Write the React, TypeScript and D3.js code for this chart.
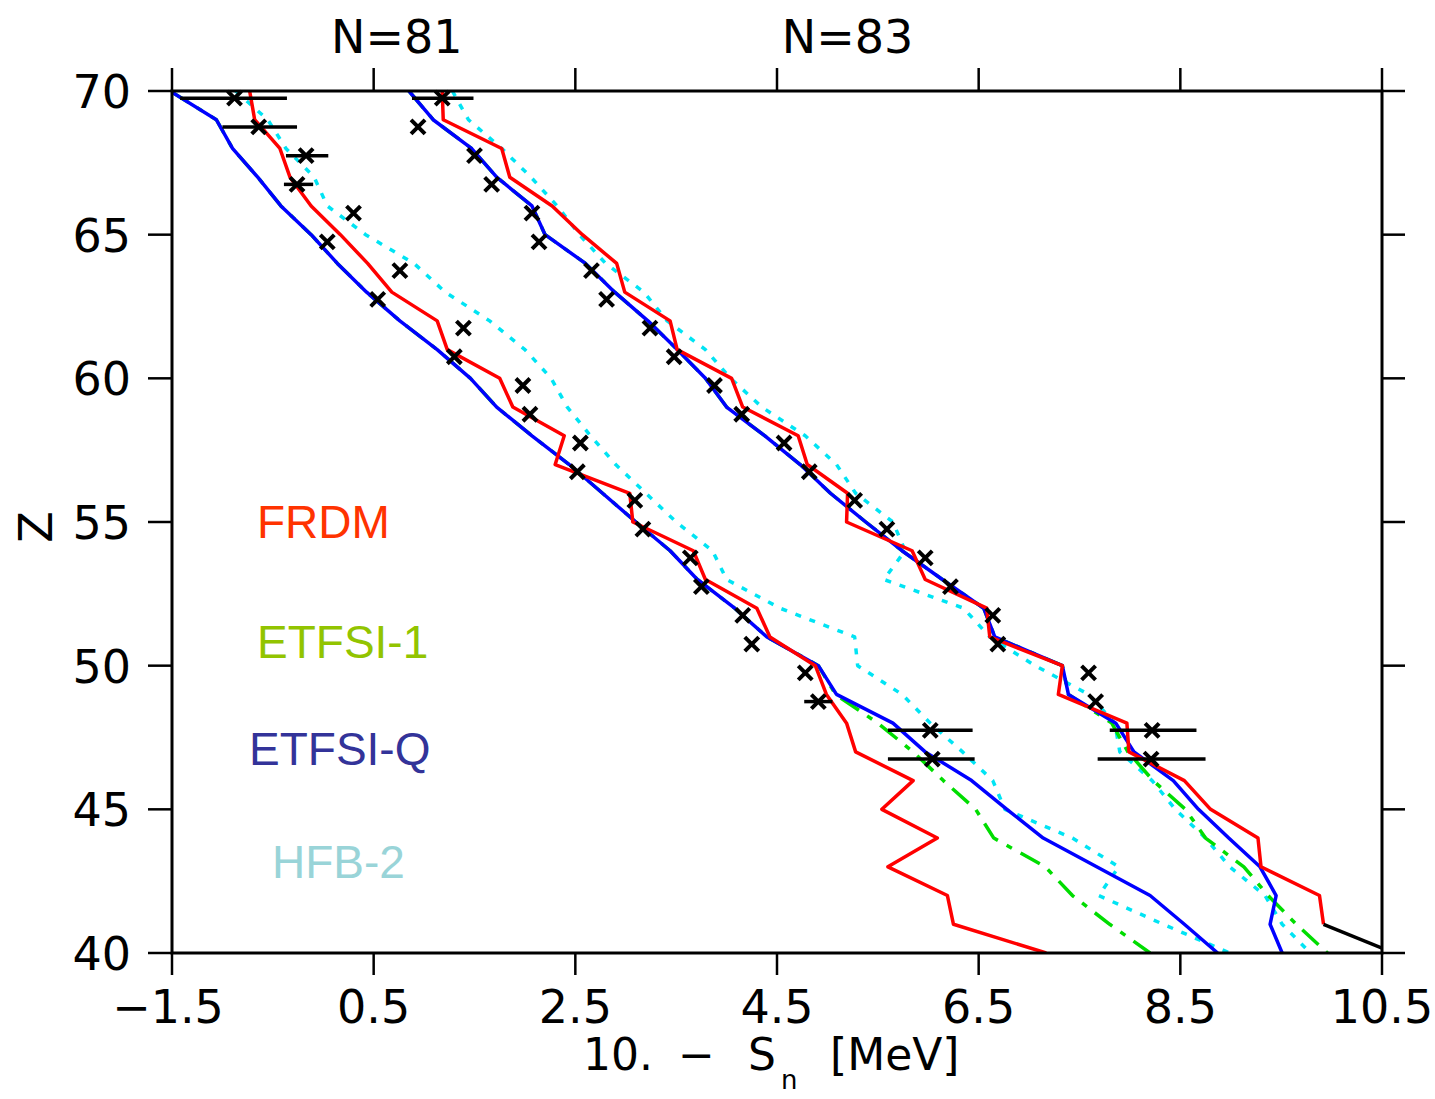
import React from 'react';
import * as d3 from 'd3';

// Z values at which the model curves are given
const zModel = [70, 69, 68, 67, 66, 65, 64, 63, 62, 61, 60, 59, 58, 57, 56, 55, 54, 53, 52, 51, 50, 49, 48, 47, 46, 45, 44, 43, 42, 41, 40];

// N = 81 chain (10 - Sn, MeV)
const frdm81 = [-0.73, -0.68, -0.43, -0.33, -0.12, 0.17, 0.44, 0.68, 1.13, 1.23, 1.75, 1.88, 2.39, 2.30, 3.04, 3.07, 3.67, 3.79, 4.30, 4.43, 4.88, 4.99, 5.19, 5.28, 5.85, 5.54, 6.09, 5.60, 6.19, 6.25, 7.17];
const etfsiQ81 = [-1.52, -1.06, -0.90, -0.65, -0.42, -0.12, 0.14, 0.43, 0.76, 1.13, 1.46, 1.72, 2.07, 2.44, 2.77, 3.10, 3.44, 3.71, 4.08, 4.40, 4.91, 5.09, 5.65, 5.97, 6.43, 6.78, 7.14, 7.67, 8.20, 8.54, 8.87];
const etfsi181 = [-1.52, -1.06, -0.90, -0.65, -0.42, -0.12, 0.14, 0.43, 0.76, 1.13, 1.46, 1.72, 2.07, 2.44, 2.77, 3.10, 3.44, 3.71, 4.08, 4.40, 4.91, 5.08, 5.50, 5.85, 6.15, 6.47, 6.65, 7.16, 7.43, 7.80, 8.20];
const hfb81 = [-0.87, -0.55, -0.37, -0.09, 0.04, 0.42, 0.90, 1.21, 1.65, 2.00, 2.26, 2.42, 2.65, 2.90, 3.20, 3.50, 3.86, 4.00, 4.53, 5.27, 5.30, 5.74, 6.02, 6.34, 6.64, 6.76, 7.43, 7.89, 7.69, 8.33, 8.99];

// N = 83 chain
const frdm83 = [1.18, 1.19, 1.77, 1.85, 2.27, 2.57, 2.91, 2.99, 3.44, 3.51, 4.05, 4.16, 4.71, 4.80, 5.20, 5.19, 5.84, 5.97, 6.58, 6.61, 7.33, 7.29, 7.97, 7.99, 8.54, 8.80, 9.27, 9.30, 9.88, 9.92];
const frdm83TailZ = [41, 40];
const frdm83Tail = [9.92, 10.62];
const etfsiQ83 = [0.85, 1.09, 1.47, 1.72, 2.07, 2.20, 2.60, 2.89, 3.22, 3.51, 3.79, 4.00, 4.38, 4.73, 5.03, 5.38, 5.74, 6.14, 6.55, 6.66, 7.33, 7.39, 7.86, 8.04, 8.43, 8.68, 8.98, 9.29, 9.45, 9.39, 9.51];
const etfsi183 = [0.85, 1.09, 1.47, 1.72, 2.07, 2.20, 2.60, 2.89, 3.22, 3.51, 3.79, 4.00, 4.38, 4.73, 5.03, 5.38, 5.74, 6.14, 6.55, 6.66, 7.33, 7.39, 7.82, 7.98, 8.23, 8.55, 8.75, 9.13, 9.37, 9.65, 9.96];
const hfb83 = [1.28, 1.44, 1.77, 2.06, 2.32, 2.54, 2.80, 3.18, 3.41, 3.79, 4.04, 4.35, 4.78, 5.09, 5.28, 5.65, 5.77, 5.56, 6.35, 6.61, 7.06, 7.59, 7.85, 7.90, 8.22, 8.45, 8.75, 8.99, 9.34, 9.51, 9.79];

// experimental points
const zExp = [69.75, 68.75, 67.75, 66.75, 65.75, 64.75, 63.75, 62.75, 61.75, 60.75, 59.75, 58.75, 57.75, 56.75, 55.75, 54.75, 53.75, 52.75, 51.75, 50.75, 49.75, 48.75, 47.75, 46.75];
const exp81 = [-0.88, -0.64, -0.17, -0.26, 0.30, 0.04, 0.76, 0.54, 1.39, 1.30, 1.98, 2.05, 2.55, 2.52, 3.09, 3.17, 3.64, 3.75, 4.16, 4.25, 4.78, 4.91, 6.02, 6.04];
const exp83 = [1.18, 0.94, 1.50, 1.67, 2.07, 2.14, 2.66, 2.81, 3.24, 3.48, 3.88, 4.15, 4.57, 4.82, 5.27, 5.59, 5.97, 6.22, 6.64, 6.69, 7.59, 7.66, 8.22, 8.21];
const errZ81 = [69.75, 68.75, 67.75, 66.75, 48.75, 47.75, 46.75];
const errLo81 = [-1.42, -1.00, -0.37, -0.39, 4.77, 5.60, 5.60];
const errHi81 = [-0.36, -0.26, 0.05, -0.10, 5.05, 6.44, 6.46];
const errZ83 = [69.75, 47.75, 46.75];
const errLo83 = [0.88, 7.80, 7.68];
const errHi83 = [1.49, 8.66, 8.75];

// axes
const xTicks = [-1.5, 0.5, 2.5, 4.5, 6.5, 8.5, 10.5];
const xTickLabels = ['\u22121.5', '0.5', '2.5', '4.5', '6.5', '8.5', '10.5'];
const yTicks = [70, 65, 60, 55, 50, 45, 40];
const topLabels = ['N=81', 'N=83'];
const topLabelX = [0.73, 5.2];

// legend
const legendNames = ['FRDM', 'ETFSI-1', 'ETFSI-Q', 'HFB-2'];
const legendColors = ['#ff3300', '#92c400', '#333399', '#99d4d8'];

const W = 1435;
const H = 1099;
const L = 172, R = 1382, T = 91, B = 953;

export default function App() {
  const x = d3.scaleLinear().domain([-1.5, 10.5]).range([L, R]);
  const y = d3.scaleLinear().domain([40, 70]).range([B, T]);

  const mk = (vals: number[], zs: number[] = zModel) =>
    d3.line<number>().x((d) => x(d)).y((_, i) => y(zs[i]))(vals) || '';

  const tickFont = "'DejaVu Sans', sans-serif";
  const legendFont = "'Liberation Sans', Arial, sans-serif";
  const fs = 46;

  const lineStyles = {
    red: { stroke: '#ff0000', strokeWidth: 3.5, fill: 'none' },
    blue: { stroke: '#0000ff', strokeWidth: 3.5, fill: 'none' },
    green: { stroke: '#00dd00', strokeWidth: 3.5, fill: 'none', strokeDasharray: '22,10,6,10' },
    cyan: { stroke: '#00e4f4', strokeWidth: 3.5, fill: 'none', strokeDasharray: '6,9' },
  };

  const cross = (cx: number, cy: number, key: string) => {
    const s = 7;
    return (
      <path
        key={key}
        d={`M${cx - s},${cy - s}L${cx + s},${cy + s}M${cx - s},${cy + s}L${cx + s},${cy - s}`}
        stroke="#000"
        strokeWidth={4}
        fill="none"
      />
    );
  };

  return (
    <svg
      width={W}
      height={H}
      style={{ position: 'absolute', left: 0, top: 0, background: '#fff' }}
    >
      <defs>
        <clipPath id="plotArea">
          <rect x={L} y={T} width={R - L} height={B - T} />
        </clipPath>
      </defs>

      <g clipPath="url(#plotArea)" strokeLinejoin="round">
        <path d={mk(hfb81)} {...lineStyles.cyan} />
        <path d={mk(hfb83)} {...lineStyles.cyan} />
        <path d={mk(etfsi181)} {...lineStyles.green} />
        <path d={mk(etfsi183)} {...lineStyles.green} />
        <path d={mk(etfsiQ81)} {...lineStyles.blue} />
        <path d={mk(etfsiQ83)} {...lineStyles.blue} />
        <path d={mk(frdm81)} {...lineStyles.red} />
        <path d={mk(frdm83)} {...lineStyles.red} />
        <path d={mk(frdm83Tail, frdm83TailZ)} stroke="#000" strokeWidth={3.5} fill="none" />
      </g>

      {/* error bars */}
      {errZ81.map((z, i) => (
        <line key={'e81' + i} x1={x(errLo81[i])} x2={x(errHi81[i])} y1={y(z)} y2={y(z)} stroke="#000" strokeWidth={3.5} />
      ))}
      {errZ83.map((z, i) => (
        <line key={'e83' + i} x1={x(errLo83[i])} x2={x(errHi83[i])} y1={y(z)} y2={y(z)} stroke="#000" strokeWidth={3.5} />
      ))}
      {/* experimental points */}
      {exp81.map((v, i) => cross(x(v), y(zExp[i]), 'p81' + i))}
      {exp83.map((v, i) => cross(x(v), y(zExp[i]), 'p83' + i))}

      {/* frame */}
      <rect x={L} y={T} width={R - L} height={B - T} fill="none" stroke="#000" strokeWidth={3} />
      {xTicks.map((t, i) => (
        <g key={'xt' + i}>
          <line x1={x(t)} x2={x(t)} y1={T} y2={T - 23} stroke="#000" strokeWidth={2.5} />
          <line x1={x(t)} x2={x(t)} y1={B} y2={B + 22} stroke="#000" strokeWidth={2.5} />
          <text
            x={x(t) - (i === 0 ? 4 : 0)}
            y={1023}
            textAnchor="middle"
            fontFamily={tickFont}
            fontSize={fs}
            fill="#000"
          >
            {xTickLabels[i]}
          </text>
        </g>
      ))}
      {yTicks.map((t, i) => (
        <g key={'yt' + i}>
          <line x1={L} x2={L - 24} y1={y(t)} y2={y(t)} stroke="#000" strokeWidth={2.5} />
          <line x1={R} x2={R + 23} y1={y(t)} y2={y(t)} stroke="#000" strokeWidth={2.5} />
          <text
            x={131}
            y={y(t) + 17}
            textAnchor="end"
            fontFamily={tickFont}
            fontSize={fs}
            fill="#000"
          >
            {t}
          </text>
        </g>
      ))}

      {/* top labels */}
      {topLabels.map((s, i) => (
        <text key={'tl' + i} x={x(topLabelX[i])} y={53} textAnchor="middle" fontFamily={tickFont} fontSize={fs} fill="#000">
          {s}
        </text>
      ))}

      {/* y label */}
      <text transform="translate(52,527) rotate(-90)" textAnchor="middle" fontFamily={tickFont} fontSize={fs} fill="#000">
        Z
      </text>

      {/* x label */}
      <g fontFamily={tickFont} fontSize={44} fill="#000">
        <text x={583} y={1070}>10.</text>
        <text x={678} y={1070}>{'\u2212'}</text>
        <text x={748} y={1070}>S</text>
        <text x={781} y={1089} fontSize={26}>n</text>
        <text x={830} y={1070}>[MeV]</text>
      </g>

      {/* legend */}
      {legendNames.map((n, i) => (
        <text
          key={'lg' + i}
          x={[257, 257, 249, 272][i]}
          y={[538, 658, 765, 878][i]}
          fontFamily={legendFont}
          fontSize={46}
          fill={legendColors[i]}
        >
          {n}
        </text>
      ))}
    </svg>
  );
}
